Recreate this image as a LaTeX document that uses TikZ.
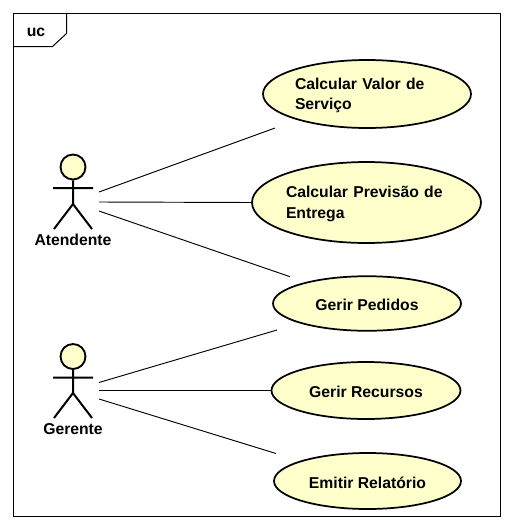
\documentclass[tikz,border=0pt]{standalone}
\usepackage{fontspec}
\setmainfont{Liberation Sans}
\usetikzlibrary{shapes.geometric}
\definecolor{ucfill}{HTML}{FFFFCC}
\newcommand{\ucfont}{\fontsize{11.8}{15.7}\selectfont\bfseries}
\newcommand{\ucstrut}{\rule{0pt}{11pt}}
\tikzset{
  usecase/.style={ellipse,draw=black,fill=ucfill,line width=1.3pt,inner sep=0pt,font=\ucfont,align=left},
  stick/.style={draw=black,line width=1.5pt},
  assoc/.style={draw=black,line width=0.7pt},
  framing/.style={draw=black,line width=0.75pt},
  head/.style={circle,draw=black,fill=ucfill,line width=1.4pt,inner sep=0pt,minimum size=18.75pt},
  actorname/.style={font=\ucfont,inner sep=0pt}
}
\begin{document}
\begin{tikzpicture}[x=0.75pt,y=-0.75pt]
\useasboundingbox (0,0) rectangle (514,529);
% frame
\draw[framing] (13.5,13.5) rectangle (500.5,516);
\coordinate (tabA) at (13.5,46.5);
\coordinate (tabB) at (52.5,46.5);
\coordinate (tabC) at (66.5,33.5);
\coordinate (tabD) at (66.5,13.5);
\draw[framing] (tabA) -- (tabB) -- (tabC) -- (tabD);
\node[actorname] (uc) at (36,32) {uc};
% use cases
\node[usecase,minimum width=156pt,minimum height=51pt,text width=108pt] (e1) at (367,94) {\ucstrut Calcular Valor de\\[-0.5pt]Serviço};
\node[usecase,minimum width=171.75pt,minimum height=60.75pt,text width=120.75pt] (e2) at (366.5,202.5) {\ucstrut Calcular Previsão de\\Entrega};
\node[usecase,minimum width=141pt,minimum height=40.9pt] (e3) at (367,303.5) {\ucstrut Gerir Pedidos};
\node[usecase,minimum width=141.75pt,minimum height=42.75pt] (e4) at (366,390.5) {\ucstrut Gerir Recursos};
\node[usecase,minimum width=140.25pt,minimum height=42pt] (e5) at (367.5,481) {\ucstrut Emitir Relatório};
% actors
\node[head] (h1) at (73,167) {};
\coordinate (a1arml) at (53,188);
\coordinate (a1armr) at (93,188);
\coordinate (a1hip) at (73,204);
\coordinate (a1footl) at (54,229);
\coordinate (a1footr) at (92,229);
\draw[stick] (h1.south) -- (a1hip) (a1arml) -- (a1armr) (a1footl) -- (a1hip) -- (a1footr);
\node[actorname] (n1) at (73,240) {Atendente};
\node[head] (h2) at (73,356.5) {};
\coordinate (a2arml) at (53,377.5);
\coordinate (a2armr) at (93,377.5);
\coordinate (a2hip) at (73,393);
\coordinate (a2footl) at (54,418);
\coordinate (a2footr) at (92,418);
\draw[stick] (h2.south) -- (a2hip) (a2arml) -- (a2armr) (a2footl) -- (a2hip) -- (a2footr);
\node[actorname] (n2) at (73,429.5) {Gerente};
% connector ends
\coordinate (s11) at (99,192);
\coordinate (s12) at (99,202);
\coordinate (s13) at (99,211);
\coordinate (s21) at (99,382.5);
\coordinate (s22) at (99,390.5);
\coordinate (s23) at (99,399);
\coordinate (t1) at (275,128);
\coordinate (t3) at (290,276.7);
\coordinate (t4) at (277,330);
\coordinate (t6) at (276,453.5);
\draw[assoc] (s11) -- (t1);
\draw[assoc] (s12) -- (e2.west);
\draw[assoc] (s13) -- (t3);
\draw[assoc] (s21) -- (t4);
\draw[assoc] (s22) -- (e4.west);
\draw[assoc] (s23) -- (t6);
\end{tikzpicture}
\end{document}
